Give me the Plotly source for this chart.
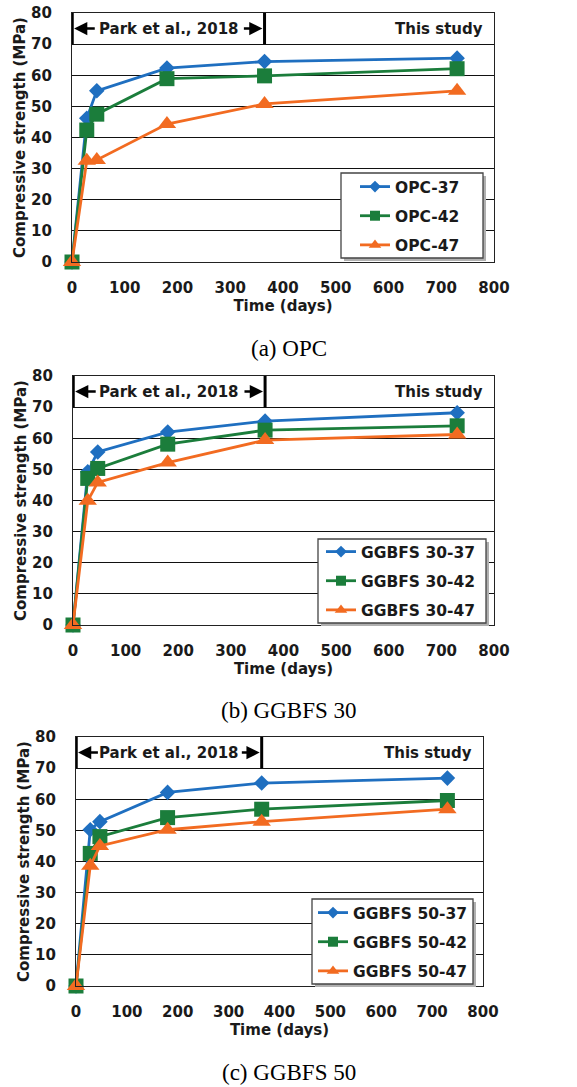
import plotly.graph_objects as go

# ---------------- data ----------------
days = [0, 28, 47, 180, 365, 730]

opc_37 = [0, 46.2, 55.0, 62.3, 64.4, 65.5]
opc_42 = [0, 42.4, 47.5, 58.9, 59.8, 62.1]
opc_47 = [0, 32.5, 32.8, 44.3, 50.8, 55.0]

g30_37 = [0, 49.2, 55.6, 62.0, 65.5, 68.2]
g30_42 = [0, 47.1, 50.3, 58.1, 62.6, 64.0]
g30_47 = [0, 39.9, 45.8, 52.2, 59.4, 61.2]

g50_37 = [0, 50.2, 52.8, 62.2, 65.2, 66.8]
g50_42 = [0, 42.6, 48.0, 54.1, 56.8, 59.6]
g50_47 = [0, 38.6, 45.0, 50.2, 52.8, 56.8]

names_opc = ["OPC-37", "OPC-42", "OPC-47"]
names_g30 = ["GGBFS 30-37", "GGBFS 30-42", "GGBFS 30-47"]
names_g50 = ["GGBFS 50-37", "GGBFS 50-42", "GGBFS 50-47"]
captions = ["(a) OPC", "(b) GGBFS 30", "(c) GGBFS 50"]

x_ticks = [0, 100, 200, 300, 400, 500, 600, 700, 800]
y_ticks = [0, 10, 20, 30, 40, 50, 60, 70, 80]

# ---------------- style ----------------
W, H = 577, 1087
colors = ["#1F6FC0", "#1B7D3B", "#F26B21"]
symbols = ["diamond", "square", "triangle-up"]
msizes = [12, 15, 16]
leg_msizes = [9, 10, 11]
FONT = "DejaVu Sans"
FS = 15
TXT = "#1a1a1a"

# pixel boxes of plot areas: (left, right, top, bottom)
boxes = [
    (72, 494, 13, 262),
    (73, 494, 376, 625),
    (76, 483, 737, 986),
]
# legend frame boxes (left, right, top, bottom) and legend anchor (x, y)
frame_boxes = [
    (341, 483, 173, 258),
    (318, 486, 539, 623),
    (312, 473, 899, 984),
]
legend_pos = [
    (355, 170),
    (321, 535),
    (313, 896),
]
caption_y = [348, 710, 1072]

panels = [
    (names_opc, [opc_37, opc_42, opc_47]),
    (names_g30, [g30_37, g30_42, g30_47]),
    (names_g50, [g50_37, g50_42, g50_47]),
]

fig = go.Figure()
layout = dict(
    width=W, height=H,
    margin=dict(l=0, r=0, t=0, b=0),
    paper_bgcolor="white", plot_bgcolor="white",
    showlegend=True,
    font=dict(family=FONT, size=FS, color=TXT),
)
shapes = []
annotations = []
bold = dict(family=FONT, size=FS, color=TXT, weight="bold")

for i, (names, series) in enumerate(panels):
    sfx = "" if i == 0 else str(i + 1)
    xa, ya = "x" + sfx, "y" + sfx
    lg = "legend" + sfx
    l, r, t, b = boxes[i]
    for j in range(3):
        fig.add_trace(go.Scatter(
            x=days, y=series[j], name=names[j],
            mode="lines+markers",
            line=dict(color=colors[j], width=2.8),
            marker=dict(symbol=symbols[j], size=msizes[j], color=colors[j]),
            xaxis=xa, yaxis=ya, legend=lg, cliponaxis=False,
            legendgroup=f"g{i}{j}", showlegend=False,
        ))
        # legend-only entry with smaller marker (as in the original legend)
        fig.add_trace(go.Scatter(
            x=[None], y=[None], name=names[j],
            mode="lines+markers",
            line=dict(color=colors[j], width=2.8),
            marker=dict(symbol=symbols[j], size=leg_msizes[j], color=colors[j]),
            xaxis=xa, yaxis=ya, legend=lg,
            legendgroup=f"g{i}{j}", showlegend=True, hoverinfo="skip",
        ))
    layout["xaxis" + sfx] = dict(
        domain=[l / W, r / W], anchor=ya, range=[0, 800],
        tickvals=x_ticks, showgrid=False, zeroline=False,
        showline=True, mirror=True, linecolor="#222", linewidth=1.2,
        ticks="", ticklabelstandoff=12,
        tickfont=bold,
        title=dict(text="Time (days)", standoff=0, font=bold),
        automargin=False, fixedrange=True,
    )
    layout["yaxis" + sfx] = dict(
        domain=[1 - b / H, 1 - t / H], anchor=xa, range=[0, 80],
        tickvals=y_ticks, showgrid=True, gridcolor="#111", gridwidth=1,
        zeroline=False,
        showline=True, mirror=True, linecolor="#222", linewidth=1.2,
        ticks="", ticklabelstandoff=16,
        tickfont=bold,
        title=dict(text="Compressive strength (MPa)", standoff=1, font=bold),
        automargin=False, fixedrange=True,
    )
    # legend frame with shadow
    fl, fr, ft, fb = frame_boxes[i]
    shapes.append(dict(type="rect", xref="paper", yref="paper", layer="above",
                       x0=(fl + 3) / W, x1=(fr + 3) / W,
                       y0=1 - (fb + 3) / H, y1=1 - (ft + 3) / H,
                       fillcolor="#b0b0b0", line=dict(width=0)))
    shapes.append(dict(type="rect", xref="paper", yref="paper", layer="above",
                       x0=fl / W, x1=fr / W, y0=1 - fb / H, y1=1 - ft / H,
                       fillcolor="white", line=dict(color="#444", width=1.3)))
    lx, ly = legend_pos[i]
    layout[lg] = dict(
        x=lx / W, y=1 - ly / H, xanchor="left", yanchor="top",
        bgcolor="rgba(0,0,0,0)", borderwidth=0,
        font=dict(family=FONT, size=15.5, color=TXT, weight="bold"),
        tracegroupgap=6, traceorder="grouped", itemwidth=30,
        itemsizing="trace",
    )
    # header bars
    for xv, wv in [(0, 3.5), (365, 3)]:
        shapes.append(dict(type="line", xref=xa, yref=ya, x0=xv, x1=xv,
                           y0=70, y1=80, line=dict(color="black", width=wv)))
    # header arrows
    annotations.append(dict(
        xref=xa, yref=ya, axref=xa, ayref=ya, x=4, y=75, ax=46, ay=75,
        text="", showarrow=True, arrowhead=2, arrowsize=1.1, arrowwidth=2.4,
        arrowcolor="black"))
    annotations.append(dict(
        xref=xa, yref=ya, axref=xa, ayref=ya, x=361, y=75, ax=323, ay=75,
        text="", showarrow=True, arrowhead=2, arrowsize=1.1, arrowwidth=2.4,
        arrowcolor="black"))
    annotations.append(dict(
        xref=xa, yref=ya, x=183, y=75, text="Park et al., 2018",
        showarrow=False, xanchor="center", yanchor="middle", font=bold))
    annotations.append(dict(
        xref=xa, yref=ya, x=782, y=75, text="This study",
        showarrow=False, xanchor="right", yanchor="middle", font=bold))
    annotations.append(dict(
        xref="paper", yref="paper", x=0.5, y=1 - caption_y[i] / H,
        text=captions[i], showarrow=False, xanchor="center", yanchor="middle",
        font=dict(family="Liberation Serif", size=23, color="black")))

layout["shapes"] = shapes
layout["annotations"] = annotations
fig.update_layout(**layout)
fig.write_html("out.html")
